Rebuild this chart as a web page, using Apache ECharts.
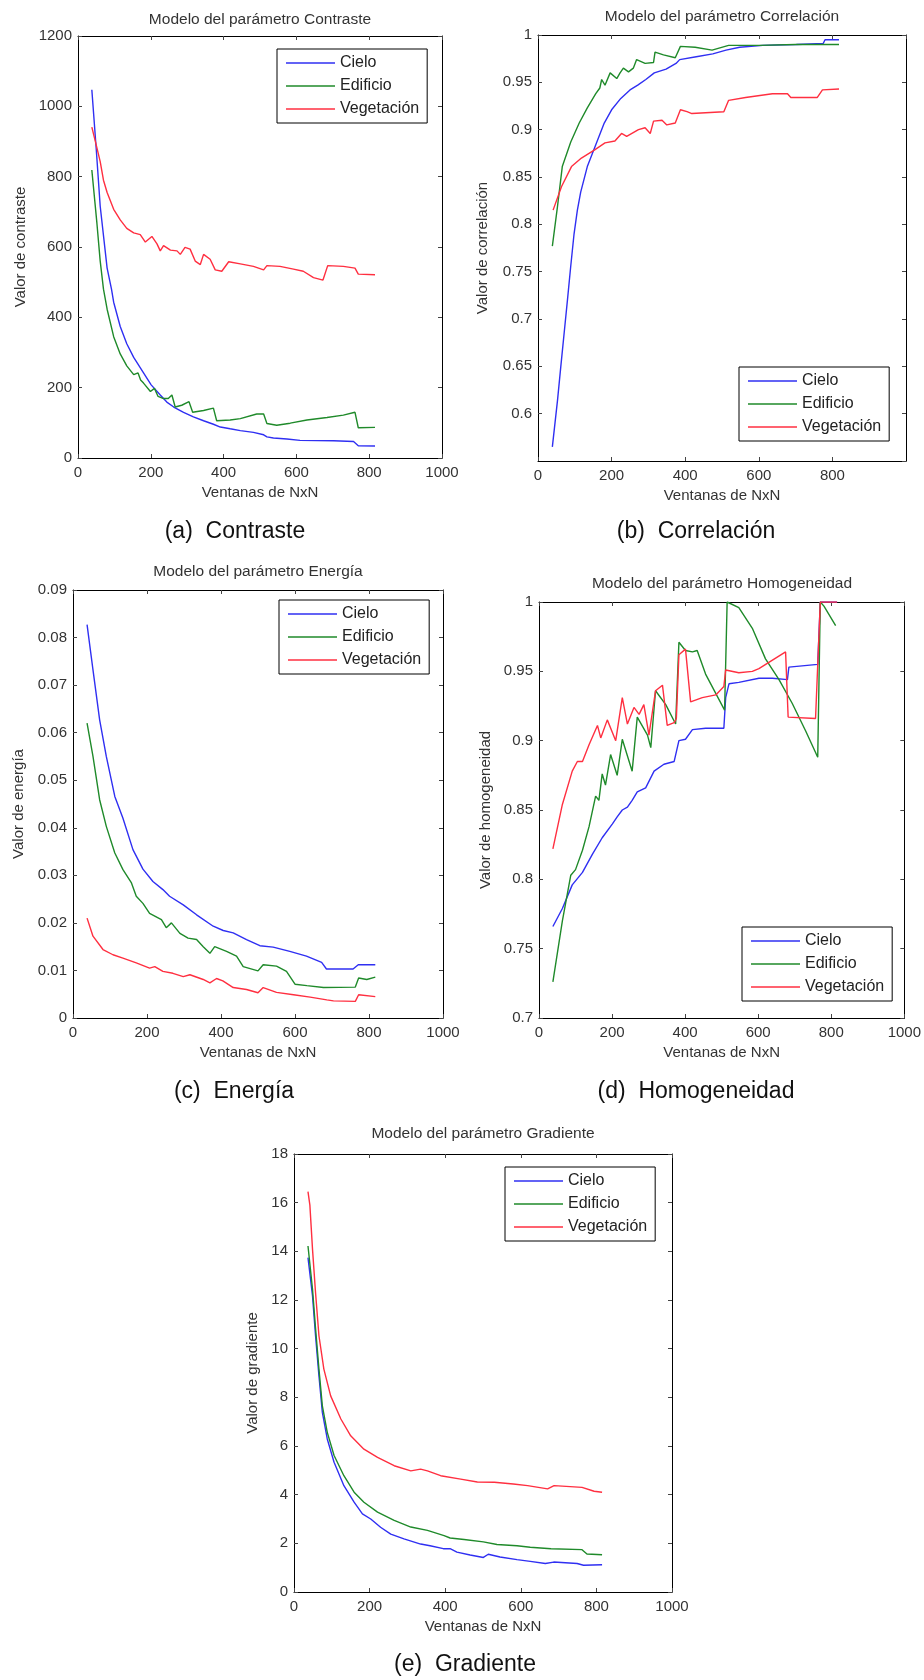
<!DOCTYPE html>
<html>
<head>
<meta charset="utf-8">
<title>Modelos de parámetros de textura</title>
<script src="https://cdn.jsdelivr.net/npm/echarts@6/dist/echarts.min.js"></script>
<style>
html, body { margin: 0; padding: 0; background: #fff; }
#chart { width: 924px; height: 1680px; }
</style>
</head>
<body>
<div id="chart"></div>
<script>
// nombres de las clases (orden de la leyenda)
var clases = ['Cielo', 'Edificio', 'Vegetación'];

// eje X comun: tamaño de ventana NxN
var xMin = 0, xMax = 1000, xPaso = 200;

// (a) Contraste  -> [ventana, valor]
var contrasteCielo = [[38,1047],[50,880],[61,716],[80,540],[92,480],[98,443],[116,374],[134,325],[153,286],[180,242],[201,208],[226,179],[244,159],[263,145],[290,130],[317,117],[345,106],[372,96],[391,88],[418,83],[446,78],[482,73],[510,66],[519,60],[537,57],[574,54],[610,50],[702,49],[757,47],[770,35],[816,34]];
var contrasteEdificio = [[38,819],[52,667],[61,560],[70,480],[80,423],[98,345],[116,296],[134,262],[153,237],[165,242],[172,222],[180,213],[199,189],[210,198],[220,175],[235,169],[248,169],[258,179],[267,145],[285,150],[305,160],[315,130],[345,135],[372,142],[381,106],[418,108],[446,112],[491,125],[510,125],[519,98],[546,93],[583,99],[629,108],[684,115],[729,122],[761,130],[770,86],[816,87]];
var contrasteVegetacion = [[38,941],[52,882],[61,843],[70,790],[80,755],[98,707],[116,677],[134,653],[153,640],[171,635],[185,614],[203,630],[217,609],[226,589],[235,604],[254,591],[272,589],[281,579],[294,599],[308,594],[322,560],[336,550],[345,579],[363,565],[377,535],[395,531],[414,558],[446,552],[482,545],[510,535],[519,547],[555,545],[592,537],[619,531],[647,513],[673,506],[686,547],[729,545],[761,540],[770,523],[816,521]];

// (b) Correlacion
var correlacionCielo = [[39,0.565],[53,0.614],[62,0.650],[71,0.685],[80,0.720],[89,0.756],[98,0.790],[107,0.815],[116,0.834],[134,0.861],[157,0.884],[180,0.907],[200,0.921],[225,0.933],[250,0.942],[271,0.947],[293,0.953],[316,0.960],[348,0.964],[375,0.970],[385,0.974],[430,0.977],[475,0.980],[511,0.984],[548,0.987],[611,0.989],[702,0.990],[775,0.991],[780,0.995],[818,0.995]];
var correlacionEdificio = [[39,0.777],[53,0.819],[66,0.861],[89,0.887],[112,0.907],[134,0.923],[157,0.938],[168,0.944],[173,0.953],[182,0.947],[196,0.960],[214,0.954],[223,0.960],[232,0.965],[246,0.961],[259,0.965],[268,0.974],[291,0.970],[314,0.971],[318,0.982],[341,0.979],[373,0.976],[387,0.988],[427,0.987],[473,0.984],[518,0.989],[600,0.989],[700,0.990],[818,0.990]];
var correlacionVegetacion = [[41,0.815],[64,0.840],[91,0.861],[118,0.870],[155,0.879],[182,0.886],[209,0.888],[227,0.896],[241,0.893],[273,0.900],[291,0.902],[305,0.896],[314,0.909],[337,0.910],[350,0.905],[373,0.907],[387,0.921],[405,0.919],[418,0.917],[505,0.919],[518,0.931],[564,0.934],[637,0.938],[678,0.938],[687,0.934],[759,0.934],[773,0.942],[818,0.943]];

// (c) Energia
var energiaCielo = [[38,0.0827],[54,0.0732],[72,0.0627],[90,0.0550],[113,0.0466],[135,0.0420],[162,0.0354],[189,0.0313],[216,0.0287],[243,0.0270],[261,0.0256],[298,0.0238],[334,0.0217],[379,0.0193],[406,0.0184],[433,0.0179],[469,0.0165],[505,0.0152],[541,0.0149],[586,0.0140],[631,0.0130],[672,0.0117],[685,0.0103],[757,0.0103],[771,0.0112],[817,0.0112]];
var energiaEdificio = [[38,0.0620],[54,0.0550],[72,0.0459],[90,0.0403],[113,0.0347],[135,0.0312],[158,0.0284],[171,0.0256],[189,0.0241],[207,0.0220],[239,0.0207],[252,0.0190],[266,0.0200],[289,0.0178],[311,0.0168],[334,0.0165],[352,0.0150],[370,0.0136],[383,0.0150],[415,0.0140],[442,0.0130],[460,0.0108],[500,0.0099],[514,0.0112],[550,0.0109],[577,0.0098],[600,0.0071],[632,0.0068],[677,0.0064],[763,0.0065],[772,0.0084],[794,0.0081],[817,0.0086]];
var energiaVegetacion = [[38,0.0210],[54,0.0172],[81,0.0144],[108,0.0133],[135,0.0126],[171,0.0116],[207,0.0105],[221,0.0108],[243,0.0098],[270,0.0094],[298,0.0087],[316,0.0091],[352,0.0081],[370,0.0074],[388,0.0083],[405,0.0078],[433,0.0064],[469,0.0060],[500,0.0053],[514,0.0064],[550,0.0054],[596,0.0049],[641,0.0044],[686,0.0038],[704,0.0036],[763,0.0035],[772,0.0049],[817,0.0045]];

// (d) Homogeneidad
var homogeneidadCielo = [[38,0.766],[64,0.779],[91,0.796],[119,0.805],[146,0.818],[173,0.830],[201,0.840],[214,0.845],[228,0.850],[242,0.852],[255,0.857],[269,0.863],[292,0.866],[315,0.878],[342,0.883],[370,0.885],[383,0.900],[401,0.901],[420,0.908],[456,0.909],[506,0.909],[511,0.931],[520,0.941],[547,0.942],[602,0.945],[639,0.945],[680,0.944],[684,0.953],[763,0.955],[770,1.0],[816,1.0]];
var homogeneidadEdificio = [[38,0.726],[64,0.770],[87,0.803],[100,0.807],[119,0.821],[137,0.838],[155,0.860],[164,0.857],[173,0.876],[182,0.868],[196,0.890],[214,0.875],[228,0.901],[255,0.878],[269,0.917],[297,0.904],[306,0.895],[319,0.936],[347,0.926],[374,0.912],[383,0.971],[401,0.965],[420,0.964],[433,0.965],[456,0.948],[508,0.922],[515,1.0],[547,0.996],[584,0.981],[620,0.959],[657,0.944],[693,0.927],[730,0.907],[763,0.888],[770,1.0],[780,0.997],[812,0.983]];
var homogeneidadVegetacion = [[38,0.822],[64,0.854],[91,0.878],[105,0.885],[119,0.885],[137,0.897],[160,0.911],[169,0.902],[187,0.915],[210,0.900],[228,0.931],[242,0.912],[260,0.924],[274,0.919],[287,0.926],[301,0.904],[319,0.936],[338,0.940],[351,0.911],[370,0.913],[376,0.916],[383,0.962],[401,0.966],[415,0.928],[447,0.931],[484,0.933],[506,0.939],[511,0.951],[547,0.949],[584,0.950],[602,0.952],[675,0.964],[682,0.917],[757,0.916],[770,1.0],[816,1.0]];

// (e) Gradiente
var gradienteCielo = [[37,13.74],[49,12.17],[57,10.53],[66,8.88],[75,7.38],[88,6.29],[106,5.33],[132,4.37],[159,3.69],[181,3.21],[203,3.00],[229,2.66],[256,2.38],[291,2.18],[335,1.97],[360,1.90],[395,1.78],[413,1.78],[431,1.64],[466,1.52],[501,1.42],[514,1.55],[545,1.44],[590,1.33],[625,1.26],[665,1.17],[687,1.23],[749,1.17],[766,1.10],[815,1.12]];
var gradienteEdificio = [[37,14.22],[49,12.44],[57,10.84],[66,9.16],[75,7.65],[88,6.56],[106,5.61],[132,4.78],[159,4.10],[185,3.69],[221,3.28],[265,2.94],[309,2.67],[353,2.53],[397,2.32],[413,2.22],[450,2.16],[501,2.06],[537,1.95],[590,1.90],[625,1.84],[680,1.78],[762,1.74],[775,1.56],[815,1.53]];
var gradienteVegetacion = [[37,16.45],[42,15.9],[49,14.08],[57,12.30],[66,10.53],[79,9.16],[97,8.06],[124,7.11],[150,6.42],[185,5.87],[221,5.53],[265,5.19],[309,4.98],[335,5.05],[353,4.98],[388,4.78],[441,4.64],[485,4.52],[530,4.51],[580,4.44],[618,4.37],[671,4.24],[688,4.37],[720,4.34],[762,4.30],[794,4.14],[815,4.10]];

var colores = ['#2f2ff2', '#1f8a2a', '#ff2f40'];
var fuente = '"Liberation Sans", Arial, Helvetica, sans-serif';

var paneles = [
    {titulo: 'Modelo del parámetro Contraste', nombreY: 'Valor de contraste', pie: '(a)  Contraste',
     series: [contrasteCielo, contrasteEdificio, contrasteVegetacion], yMin: 0, yMax: 1200, yPaso: 200,
     grid: {left: 78, top: 36, width: 364, height: 422}, leyenda: {left: 277, top: 49},
     gapY: 50, tituloY: 20, pieX: 235, pieY: 532},
    {titulo: 'Modelo del parámetro Correlación', nombreY: 'Valor de correlación', pie: '(b)  Correlación',
     series: [correlacionCielo, correlacionEdificio, correlacionVegetacion], yMin: 0.55, yMax: 1, yPaso: 0.05,
     grid: {left: 538, top: 35, width: 368, height: 426}, leyenda: {left: 739, top: 367},
     gapY: 48, tituloY: 17, pieX: 696, pieY: 532, sinMinY: true, sinMaxX: true},
    {titulo: 'Modelo del parámetro Energía', nombreY: 'Valor de energía', pie: '(c)  Energía',
     series: [energiaCielo, energiaEdificio, energiaVegetacion], yMin: 0, yMax: 0.09, yPaso: 0.01,
     grid: {left: 73, top: 590, width: 370, height: 428}, leyenda: {left: 279, top: 600},
     gapY: 47, tituloY: 572, pieX: 234, pieY: 1092},
    {titulo: 'Modelo del parámetro Homogeneidad', nombreY: 'Valor de homogeneidad', pie: '(d)  Homogeneidad',
     series: [homogeneidadCielo, homogeneidadEdificio, homogeneidadVegetacion], yMin: 0.7, yMax: 1, yPaso: 0.05,
     grid: {left: 539, top: 602, width: 366, height: 416}, leyenda: {left: 742, top: 927},
     gapY: 46, tituloY: 584, pieX: 696, pieY: 1092},
    {titulo: 'Modelo del parámetro Gradiente', nombreY: 'Valor de gradiente', pie: '(e)  Gradiente',
     series: [gradienteCielo, gradienteEdificio, gradienteVegetacion], yMin: 0, yMax: 18, yPaso: 2,
     grid: {left: 294, top: 1154, width: 378, height: 438}, leyenda: {left: 505, top: 1167},
     gapY: 34, tituloY: 1134, pieX: 465, pieY: 1665}
];

// etiquetas sin separador de miles, estilo matlab
function numero(v) {
    return String(+v.toFixed(6));
}

var textoEje = {fontFamily: fuente, fontSize: 15, color: '#333'};
var linea = {show: true, onZero: false, lineStyle: {color: '#000', width: 1}};
var marca = {show: true, inside: true, length: 4, lineStyle: {color: '#444'}};

var option = {
    animation: false,
    backgroundColor: '#fff',
    grid: [], xAxis: [], yAxis: [], series: [], legend: [], graphic: []
};

paneles.forEach(function (p, i) {
    option.grid.push(Object.assign({show: false}, p.grid));

    // eje inferior con etiquetas + eje superior solo con marcas
    option.xAxis.push({
        gridIndex: i, type: 'value', min: xMin, max: xMax, interval: xPaso, position: 'bottom',
        axisLine: linea, axisTick: marca, splitLine: {show: false},
        axisLabel: Object.assign({margin: 7, showMaxLabel: !p.sinMaxX, formatter: numero}, textoEje),
        name: 'Ventanas de NxN', nameLocation: 'middle', nameGap: 27, nameTextStyle: textoEje
    });
    option.xAxis.push({
        gridIndex: i, type: 'value', min: xMin, max: xMax, interval: xPaso, position: 'top',
        axisLine: linea, axisTick: marca, splitLine: {show: false}, axisLabel: {show: false}
    });
    option.yAxis.push({
        gridIndex: i, type: 'value', min: p.yMin, max: p.yMax, interval: p.yPaso, position: 'left',
        axisLine: linea, axisTick: marca, splitLine: {show: false},
        axisLabel: Object.assign({margin: 6, showMinLabel: !p.sinMinY, formatter: numero}, textoEje),
        name: p.nombreY, nameLocation: 'middle', nameGap: p.gapY, nameTextStyle: textoEje
    });
    option.yAxis.push({
        gridIndex: i, type: 'value', min: p.yMin, max: p.yMax, interval: p.yPaso, position: 'right',
        axisLine: linea, axisTick: marca, splitLine: {show: false}, axisLabel: {show: false}
    });

    p.series.forEach(function (datos, k) {
        option.series.push({
            name: clases[k], type: 'line', xAxisIndex: 2 * i, yAxisIndex: 2 * i,
            data: datos, symbol: 'none', showSymbol: false,
            lineStyle: {color: colores[k], width: 1.4}, itemStyle: {color: colores[k]}
        });
    });

    option.legend.push({
        data: clases, orient: 'vertical', left: p.leyenda.left, top: p.leyenda.top,
        icon: 'rect', itemWidth: 49, itemHeight: 1.6,
        padding: [5, 8, 5, 9], itemGap: 5,
        backgroundColor: '#fff', borderColor: '#000', borderWidth: 1, borderRadius: 0,
        selectedMode: false,
        textStyle: {fontFamily: fuente, fontSize: 16, color: '#222', lineHeight: 18}
    });

    var cx = p.grid.left + p.grid.width / 2;
    option.graphic.push({
        type: 'text', x: cx, y: p.tituloY, silent: true,
        style: {text: p.titulo, font: '15.5px ' + fuente, fill: '#333',
                align: 'center', verticalAlign: 'middle', textAlign: 'center', textVerticalAlign: 'middle'}
    });
    option.graphic.push({
        type: 'text', x: p.pieX, y: p.pieY, silent: true,
        style: {text: p.pie, font: '23px ' + fuente, fill: '#111',
                align: 'center', verticalAlign: 'middle', textAlign: 'center', textVerticalAlign: 'middle'}
    });
});

var chart = echarts.init(document.getElementById('chart'), null, {renderer: 'canvas'});
chart.setOption(option);
</script>
</body>
</html>
